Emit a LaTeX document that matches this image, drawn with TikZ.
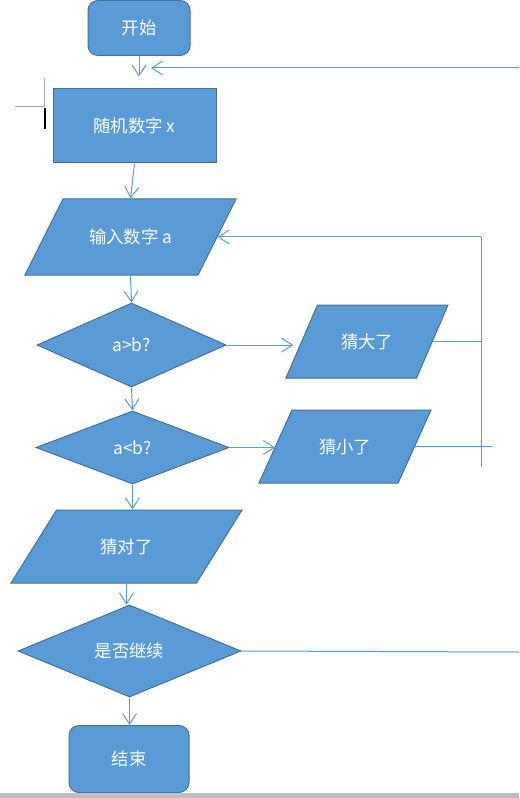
\documentclass[tikz,border=0pt]{standalone}
\usepackage{fontspec}
\setmainfont{Noto Sans CJK SC}
\usepackage{tikz}
\usetikzlibrary{arrows.meta,shapes.geometric}
\definecolor{fillblue}{HTML}{5B9BD5}
\definecolor{edgeblue}{HTML}{41719C}
\definecolor{lineblue}{HTML}{5B9BD5}
\tikzset{term/.style={draw=edgeblue,fill=fillblue,rounded corners=7.5pt,text=white,font=\fontsize{13}{15}\selectfont,line width=0.75pt,inner sep=0pt},proc/.style={term,sharp corners},io/.style={term,sharp corners,trapezium,trapezium stretches body,text height=10pt,text depth=0pt,inner xsep=0pt},dec/.style={term,sharp corners,diamond},link/.style={draw=lineblue,line width=0.75pt},arr/.style={link,-{Straight Barb[length=8pt,width=10.5pt]}}}

\begin{document}
\begin{tikzpicture}[x=0.75pt,y=-0.75pt]
\useasboundingbox (0,0) rectangle (519,798);
\node[term,minimum width=76.5pt,minimum height=41.25pt] (start) at (139,28) {开始};
\node[proc,minimum width=122.25pt,minimum height=55.5pt] (rand) at (134.5,126) {随机数字 x};
\node[io,trapezium left angle=63.4,trapezium right angle=116.6,minimum width=158.25pt,inner ysep=23.5pt] (input) at (130.5,237) {输入数字 a};
\node[dec,minimum width=141.75pt,minimum height=63pt] (gt) at (131.5,345) {a>b?};
\node[io,trapezium left angle=66.7,trapezium right angle=113.3,minimum width=121.5pt,inner ysep=22.375pt] (big) at (367,341.5) {猜大了};
\node[dec,minimum width=144.75pt,minimum height=54.75pt] (lt) at (132.5,447.5) {a<b?};
\node[io,trapezium left angle=65.7,trapezium right angle=114.3,minimum width=129pt,inner ysep=22.375pt] (small) at (345,446.5) {猜小了};
\node[io,trapezium left angle=58,trapezium right angle=122,minimum width=173.25pt,inner ysep=22.375pt] (hit) at (126.5,546.5) {猜对了};
\node[dec,minimum width=167.25pt,minimum height=69pt] (again) at (129.5,651) {是否继续};
\node[term,minimum width=90pt,minimum height=50.25pt] (stop) at (129,759) {结束};
\coordinate (backin) at (151,68);
\coordinate (backout) at (519,68);
\coordinate (edge) at (519,652);
\coordinate (rtop) at (481,237);
\coordinate (rbot) at (481,467);
\coordinate (stub) at (492,446.5);
\draw[arr,shorten >=9pt] (start) -- (start |- rand.north);
\draw[arr] (backout) -- (backin);
\draw[arr] (rand.south) -- (input.north);
\draw[arr] (input.south) -- (gt.north);
\draw[arr,shorten >=6pt] (gt.east) -- (gt.east -| big.west);
\draw[arr] (gt.south) -- (lt.north);
\draw[arr] (lt.east) -- (lt.east -| small.west);
\draw[link] (big.east) -- (big.east -| rtop);
\draw[link] (small.east) -- (stub);
\draw[link] (rbot) -- (rtop);
\draw[arr] (rtop) -- (rtop -| input.east);
\draw[arr] (lt.south) -- (lt.south |- hit.north);
\draw[arr] (hit.south) -- (hit.south |- again.north);
\draw[link] (again.east) -- (edge);
\draw[arr] (again.south) -- (again.south |- stop.north);
\draw[gray!70,line width=0.75pt] (15,107) -- (44,107) -- (44,78);
\draw[black,line width=1.5pt] (44.5,108) -- (44.5,129);
\fill[gray!50] (0,793) rectangle (519,798);
\end{tikzpicture}
\end{document}
